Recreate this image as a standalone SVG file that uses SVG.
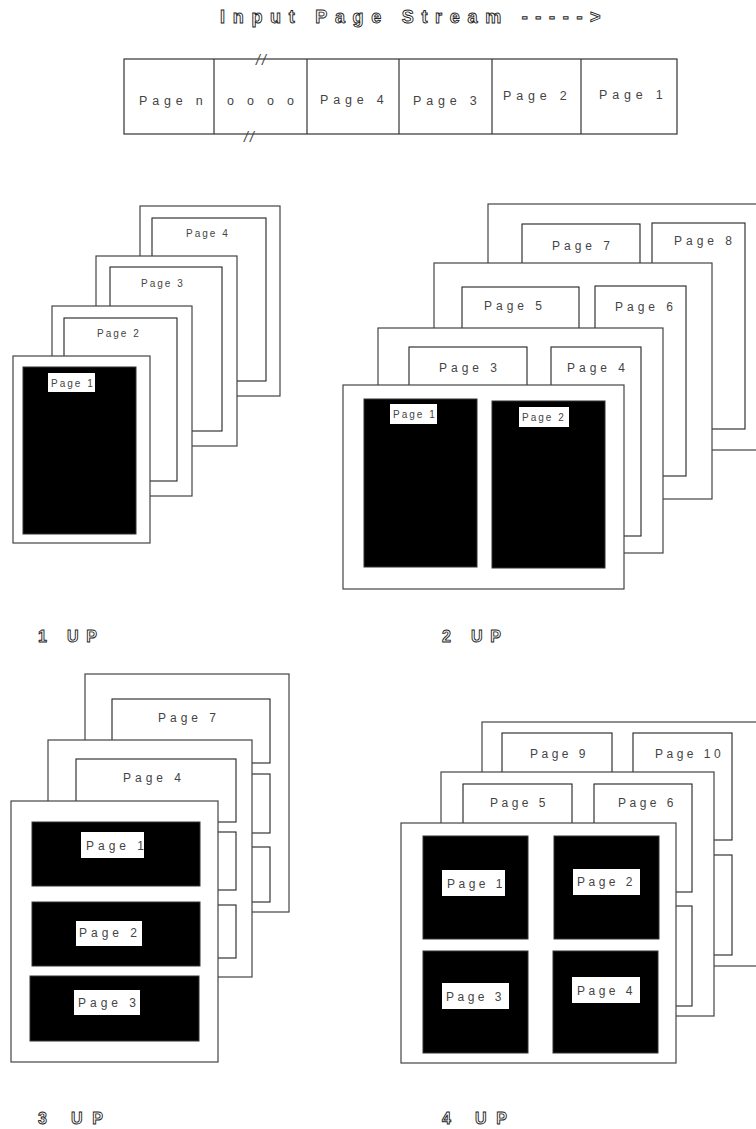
<svg xmlns="http://www.w3.org/2000/svg" width="756" height="1129" viewBox="0 0 756 1129">
<style>
  .bg{fill:#fff}
  .pg{fill:#fff;stroke:#444;stroke-width:1.2}
  .bx{fill:#fff;stroke:#222;stroke-width:1.1}
  .blk{fill:#000;stroke:#333;stroke-width:1}
  .lb{fill:#fff;stroke:none}
  .t{font-family:"Liberation Sans",Arial,sans-serif;fill:#444}
  .t10{font-size:10px;letter-spacing:2px}
  .t12{font-size:12px;letter-spacing:4px}
  .t12b{font-size:12px;letter-spacing:3.5px}
  .ts{font-size:12.5px;letter-spacing:4.8px}
  .sl{font-size:14px;font-style:italic;letter-spacing:2px}
  .hd{font-family:"Liberation Sans",Arial,sans-serif;font-weight:bold;fill:#fff;stroke:#222;stroke-width:0.9}
  .up{font-size:16px}
  .dv{stroke:#333;stroke-width:1.2}
</style>
<rect class="bg" x="0" y="0" width="756" height="1129"/>

<g id="title">
  <text class="hd" x="220" y="23" font-size="18" letter-spacing="7.7">Input Page Stream -----&gt;</text>
</g>

<g id="stream">
  <rect x="124" y="59" width="553" height="75" fill="#fff" stroke="#333" stroke-width="1.2"/>
  <line class="dv" x1="214" y1="59" x2="214" y2="134"/>
  <line class="dv" x1="307" y1="59" x2="307" y2="134"/>
  <line class="dv" x1="399" y1="59" x2="399" y2="134"/>
  <line class="dv" x1="492" y1="59" x2="492" y2="134"/>
  <line class="dv" x1="581" y1="59" x2="581" y2="134"/>
  <text class="t ts" x="139" y="105">Page n</text>
  <text class="t ts" x="227" y="105">o o o o</text>
  <text class="t ts" x="320" y="104">Page 4</text>
  <text class="t ts" x="413" y="105">Page 3</text>
  <text class="t ts" x="503" y="100">Page 2</text>
  <text class="t ts" x="599" y="99">Page 1</text>
  <text class="t sl" x="256" y="65">//</text>
  <text class="t sl" x="244" y="142">//</text>
</g>

<g id="up1">
  <g id="up1-page4">
    <rect class="pg" x="140" y="206" width="140" height="190"/>
    <rect class="bx" x="152" y="218" width="114" height="163"/>
    <text class="t t10" x="186" y="237">Page 4</text>
  </g>
  <g id="up1-page3">
    <rect class="pg" x="96" y="256" width="141" height="190"/>
    <rect class="bx" x="110" y="267" width="112" height="164"/>
    <text class="t t10" x="141" y="287">Page 3</text>
  </g>
  <g id="up1-page2">
    <rect class="pg" x="52" y="306" width="140" height="190"/>
    <rect class="bx" x="64" y="318" width="113" height="163"/>
    <text class="t t10" x="97" y="337">Page 2</text>
  </g>
  <g id="up1-page1">
    <rect class="pg" x="13" y="356" width="137" height="187"/>
    <rect class="blk" x="23" y="367" width="113" height="167"/>
    <rect class="lb" x="48" y="373" width="47" height="19"/>
    <text class="t t10" x="51" y="387">Page 1</text>
  </g>
  <text id="up1-label" class="hd up" x="38" y="642" letter-spacing="7.8">1 UP</text>
</g>

<g id="up2">
  <g id="up2-sheet4">
    <rect class="pg" x="488" y="204" width="272" height="246"/>
    <rect class="bx" x="522" y="224" width="118" height="60"/>
    <rect class="bx" x="652" y="223" width="93" height="206"/>
    <text class="t t12" x="552" y="250">Page 7</text>
    <text class="t t12" x="674" y="245">Page 8</text>
  </g>
  <g id="up2-sheet3">
    <rect class="pg" x="434" y="263" width="278" height="236"/>
    <rect class="bx" x="462" y="287" width="117" height="60"/>
    <rect class="bx" x="595" y="286" width="91" height="190"/>
    <text class="t t12" x="484" y="310">Page 5</text>
    <text class="t t12" x="615" y="311">Page 6</text>
  </g>
  <g id="up2-sheet2">
    <rect class="pg" x="378" y="328" width="285" height="225"/>
    <rect class="bx" x="409" y="347" width="118" height="60"/>
    <rect class="bx" x="551" y="347" width="90" height="189"/>
    <text class="t t12" x="439" y="372">Page 3</text>
    <text class="t t12" x="567" y="372">Page 4</text>
  </g>
  <g id="up2-sheet1">
    <rect class="pg" x="343" y="385" width="281" height="204"/>
    <rect class="blk" x="364" y="399" width="113" height="168"/>
    <rect class="blk" x="492" y="401" width="113" height="167"/>
    <rect class="lb" x="390" y="404" width="47" height="20"/>
    <text class="t t10" x="393" y="418">Page 1</text>
    <rect class="lb" x="519" y="407" width="50" height="20"/>
    <text class="t t10" x="522" y="421">Page 2</text>
  </g>
  <text id="up2-label" class="hd up" x="442" y="642" letter-spacing="7.8">2 UP</text>
</g>

<g id="up3">
  <g id="up3-sheet3">
    <rect class="pg" x="85" y="674" width="204" height="238"/>
    <rect class="bx" x="112" y="699" width="158" height="64"/>
    <rect class="bx" x="112" y="774" width="158" height="59"/>
    <rect class="bx" x="112" y="847" width="158" height="55"/>
    <text class="t t12" x="158" y="722">Page 7</text>
  </g>
  <g id="up3-sheet2">
    <rect class="pg" x="48" y="740" width="204" height="237"/>
    <rect class="bx" x="76" y="759" width="160" height="63"/>
    <rect class="bx" x="76" y="832" width="160" height="58"/>
    <rect class="bx" x="76" y="905" width="160" height="53"/>
    <text class="t t12" x="123" y="782">Page 4</text>
  </g>
  <g id="up3-sheet1">
    <rect class="pg" x="11" y="801" width="207" height="261"/>
    <rect class="blk" x="32" y="822" width="168" height="64"/>
    <rect class="lb" x="81" y="832" width="63" height="26"/>
    <text class="t t12" x="86" y="850">Page 1</text>
    <rect class="blk" x="32" y="902" width="168" height="64"/>
    <rect class="lb" x="76" y="921" width="66" height="25"/>
    <text class="t t12" x="79" y="937">Page 2</text>
    <rect class="blk" x="30" y="976" width="169" height="65"/>
    <rect class="lb" x="74" y="990" width="66" height="25"/>
    <text class="t t12" x="78" y="1007">Page 3</text>
  </g>
  <text id="up3-label" class="hd up" x="38" y="1124" letter-spacing="9.8">3 UP</text>
</g>

<g id="up4">
  <g id="up4-sheet3">
    <rect class="pg" x="482" y="722" width="278" height="244"/>
    <rect class="bx" x="502" y="733" width="110" height="67"/>
    <rect class="bx" x="633" y="733" width="99" height="107"/>
    <rect class="bx" x="633" y="855" width="99" height="100"/>
    <text class="t t12b" x="530" y="758">Page 9</text>
    <text class="t t12b" x="655" y="758">Page 10</text>
  </g>
  <g id="up4-sheet2">
    <rect class="pg" x="441" y="772" width="273" height="244"/>
    <rect class="bx" x="463" y="784" width="109" height="56"/>
    <rect class="bx" x="594" y="784" width="98" height="108"/>
    <rect class="bx" x="594" y="906" width="98" height="100"/>
    <text class="t t12b" x="490" y="807">Page 5</text>
    <text class="t t12b" x="618" y="807">Page 6</text>
  </g>
  <g id="up4-sheet1">
    <rect class="pg" x="401" y="823" width="275" height="240"/>
    <rect class="blk" x="423" y="836" width="105" height="103"/>
    <rect class="blk" x="554" y="836" width="105" height="103"/>
    <rect class="blk" x="423" y="951" width="105" height="102"/>
    <rect class="blk" x="553" y="951" width="105" height="102"/>
    <rect class="lb" x="442" y="870" width="63" height="26"/>
    <text class="t t12b" x="447" y="888">Page 1</text>
    <rect class="lb" x="573" y="869" width="67" height="26"/>
    <text class="t t12b" x="577" y="886">Page 2</text>
    <rect class="lb" x="442" y="983" width="67" height="26"/>
    <text class="t t12b" x="446" y="1001">Page 3</text>
    <rect class="lb" x="572" y="977" width="68" height="26"/>
    <text class="t t12b" x="577" y="995">Page 4</text>
  </g>
  <text id="up4-label" class="hd up" x="442" y="1124" letter-spacing="9.8">4 UP</text>
</g>
</svg>
